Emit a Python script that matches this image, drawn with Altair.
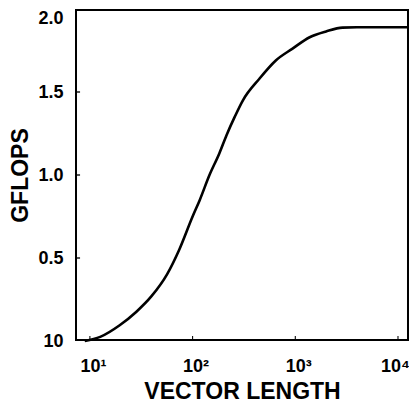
import altair as alt
import pandas as pd

# Curve
vector_length = [8.9, 12.6, 19.5, 28.2, 39.8, 56.2, 74.1, 100, 117.5, 146, 182, 214, 257,
                 309, 447, 646, 933, 1380, 1995, 2884, 3981, 6000, 12800]
gflops = [0.0, 0.025, 0.095, 0.175, 0.27, 0.40, 0.55, 0.75, 0.85, 1.0, 1.13, 1.24, 1.35,
          1.45, 1.58, 1.69, 1.76, 1.83, 1.865, 1.888, 1.89, 1.89, 1.89]

x_tick_values = [10, 100, 1000, 10000]
x_tick_labels = ["10¹", "10²", "10³", "10⁴"]
y_tick_values = [0.0, 0.5, 1.0, 1.5, 2.0]
y_tick_labels = ["10", "0.5", "1.0", "1.5", "2.0"]
y_inner_ticks = [0.5, 1.0, 1.5]

X_DOMAIN = [7.16, 12800]
Y_DOMAIN = [0, 2]

FONT = "Liberation Sans"
W, H = 334, 332

df = pd.DataFrame({"x": vector_length, "y": gflops})

x_expr = " : ".join(
    f"datum.value == {v} ? '{l}'" for v, l in zip(x_tick_values, x_tick_labels)
) + " : ''"
y_expr = " : ".join(
    f"abs(datum.value - {v}) < 0.001 ? '{l}'" for v, l in zip(y_tick_values, y_tick_labels)
) + " : ''"

xscale = alt.Scale(type="log", domain=X_DOMAIN, nice=False)
yscale = alt.Scale(domain=Y_DOMAIN, nice=False)

common_axis = dict(
    grid=False, domain=False, ticks=False,
    labelFont=FONT, labelFontWeight="bold", labelFontSize=18, labelColor="black",
    titleFont=FONT, titleFontWeight="bold", titleColor="black",
)

line = alt.Chart(df).mark_line(color="black", strokeWidth=2.6, interpolate="monotone").encode(
    x=alt.X("x:Q", scale=xscale, title="VECTOR LENGTH",
            axis=alt.Axis(values=x_tick_values, labelExpr=x_expr, labelFlush=False,
                          labelPadding=16,
                          labelOffset={"condition": {"test": "datum.value >= 9999", "value": -3},
                                       "value": 3},
                          titleFontSize=23, titlePadding=5, **common_axis)),
    y=alt.Y("y:Q", scale=yscale, title="GFLOPS",
            axis=alt.Axis(values=y_tick_values, labelExpr=y_expr, labelPadding=12,
                          labelBaseline={"condition": {"test": "datum.value >= 1.99", "value": "top"},
                                         "value": "middle"},
                          titleFontSize=23, titlePadding=5, **common_axis)),
)

# frame and inward ticks as filled thin rectangles, placed through the scales
ty = 0.012      # about 2 px in GFLOPS units
tx = 1.046      # about 2 px on the log axis (multiplicative)
tick_y = 0.03   # about 5 px
tick_x = 1.12   # about 5 px
rows = [
    # bottom, top, left, right sides of the frame
    {"x1": X_DOMAIN[0], "x2": X_DOMAIN[1], "y1": Y_DOMAIN[0], "y2": Y_DOMAIN[0] + ty},
    {"x1": X_DOMAIN[0], "x2": X_DOMAIN[1], "y1": Y_DOMAIN[1] - ty, "y2": Y_DOMAIN[1]},
    {"x1": X_DOMAIN[0], "x2": X_DOMAIN[0] * tx, "y1": Y_DOMAIN[0], "y2": Y_DOMAIN[1]},
    {"x1": X_DOMAIN[1] / tx, "x2": X_DOMAIN[1], "y1": Y_DOMAIN[0], "y2": Y_DOMAIN[1]},
]
for v in x_tick_values:
    rows.append({"x1": v / 1.012, "x2": v * 1.012, "y1": Y_DOMAIN[0], "y2": Y_DOMAIN[0] + tick_y})
for v in y_inner_ticks:
    rows.append({"x1": X_DOMAIN[0], "x2": X_DOMAIN[0] * tick_x, "y1": v - 0.004, "y2": v + 0.004})

boxes = alt.Chart(pd.DataFrame(rows)).mark_rect(color="black", strokeWidth=0).encode(
    x=alt.X("x1:Q", scale=xscale), x2="x2:Q",
    y=alt.Y("y1:Q", scale=yscale), y2="y2:Q",
)

chart = alt.layer(line, boxes).properties(
    width=W, height=H,
    background="white",
    autosize=alt.AutoSizeParams(type="none"),
    padding={"left": 67, "top": 1, "right": 0, "bottom": 64},
).configure_view(stroke=None)

chart.save("out.html", embed_options={"renderer": "svg", "actions": False})
